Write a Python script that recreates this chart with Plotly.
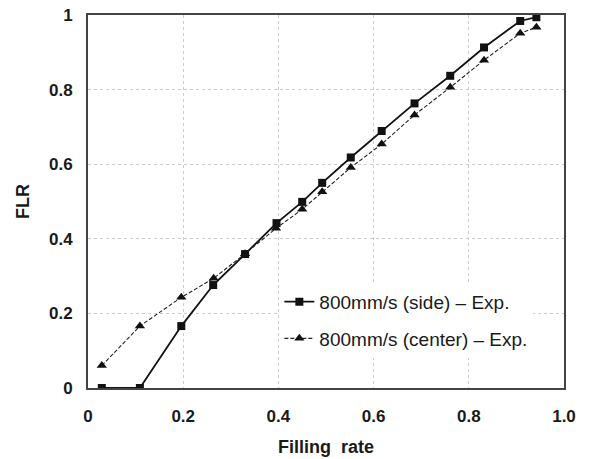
import plotly.graph_objects as go

side_x = [0.029, 0.109, 0.196, 0.263, 0.330, 0.396, 0.450, 0.492, 0.552, 0.617, 0.686, 0.761, 0.832, 0.908, 0.942]
side_y = [0.0, 0.0, 0.166, 0.276, 0.359, 0.442, 0.499, 0.550, 0.618, 0.689, 0.763, 0.837, 0.913, 0.984, 0.994]

center_x = [0.029, 0.109, 0.196, 0.264, 0.330, 0.395, 0.450, 0.492, 0.552, 0.617, 0.686, 0.761, 0.832, 0.908, 0.942]
center_y = [0.060, 0.166, 0.243, 0.294, 0.360, 0.428, 0.479, 0.526, 0.591, 0.654, 0.732, 0.806, 0.879, 0.951, 0.967]

x_ticks = [0, 0.2, 0.4, 0.6, 0.8, 1.0]
x_tick_text = ["0", "0.2", "0.4", "0.6", "0.8", "1.0"]
y_ticks = [0, 0.2, 0.4, 0.6, 0.8, 1.0]
y_tick_text = ["0", "0.2", "0.4", "0.6", "0.8", "1"]

FONT = "Liberation Sans"
TXT = "#1a1a1a"

fig = go.Figure()
fig.add_trace(go.Scatter(
    x=side_x, y=side_y, mode="lines+markers",
    name="800mm/s (side) \u2013 Exp.", legendgroup="a",
    line=dict(color="#111111", width=1.8),
    marker=dict(symbol="square", size=8, color="#111111"),
))
fig.add_trace(go.Scatter(
    x=center_x, y=center_y, mode="lines+markers",
    name="800mm/s (center) \u2013 Exp.", legendgroup="b",
    line=dict(color="#222222", width=1.1, dash="4px,2px"),
    marker=dict(symbol="triangle-up", size=9, color="#111111"),
))

grid = dict(showgrid=True, gridcolor="#cccccc", griddash="3px,3px", gridwidth=1)
fig.update_xaxes(
    range=[0, 1.0], tickvals=x_ticks, ticktext=x_tick_text,
    showline=True, linecolor="#444444", linewidth=2, mirror=True,
    ticks="", zeroline=False, automargin=False, ticklabelstandoff=12,
    tickfont=dict(family=FONT, size=17, color=TXT, weight="bold"),
    title=dict(text="<b>Filling&nbsp; rate</b>", font=dict(family=FONT, size=18, color=TXT)),
    **grid,
)
fig.update_yaxes(
    range=[0, 1.0], tickvals=y_ticks, ticktext=y_tick_text,
    showline=True, linecolor="#444444", linewidth=2, mirror=True,
    ticks="", zeroline=False, automargin=False, ticklabelstandoff=10,
    tickfont=dict(family=FONT, size=17, color=TXT, weight="bold"),
    title=dict(text="<b>FLR</b>", font=dict(family=FONT, size=18, color=TXT)),
    **grid,
)
fig.update_layout(
    width=591, height=459,
    margin=dict(l=88, r=27, t=15, b=71, autoexpand=False),
    plot_bgcolor="white", paper_bgcolor="white",
    legend=dict(
        x=0.402, y=0.282, xanchor="left", yanchor="top",
        bgcolor="white",
        font=dict(family=FONT, size=19, color=TXT),
        itemwidth=30, tracegroupgap=9,
    ),
)
fig.write_html("out.html", config={"displayModeBar": False},
               post_script="document.body.style.margin='0';")
